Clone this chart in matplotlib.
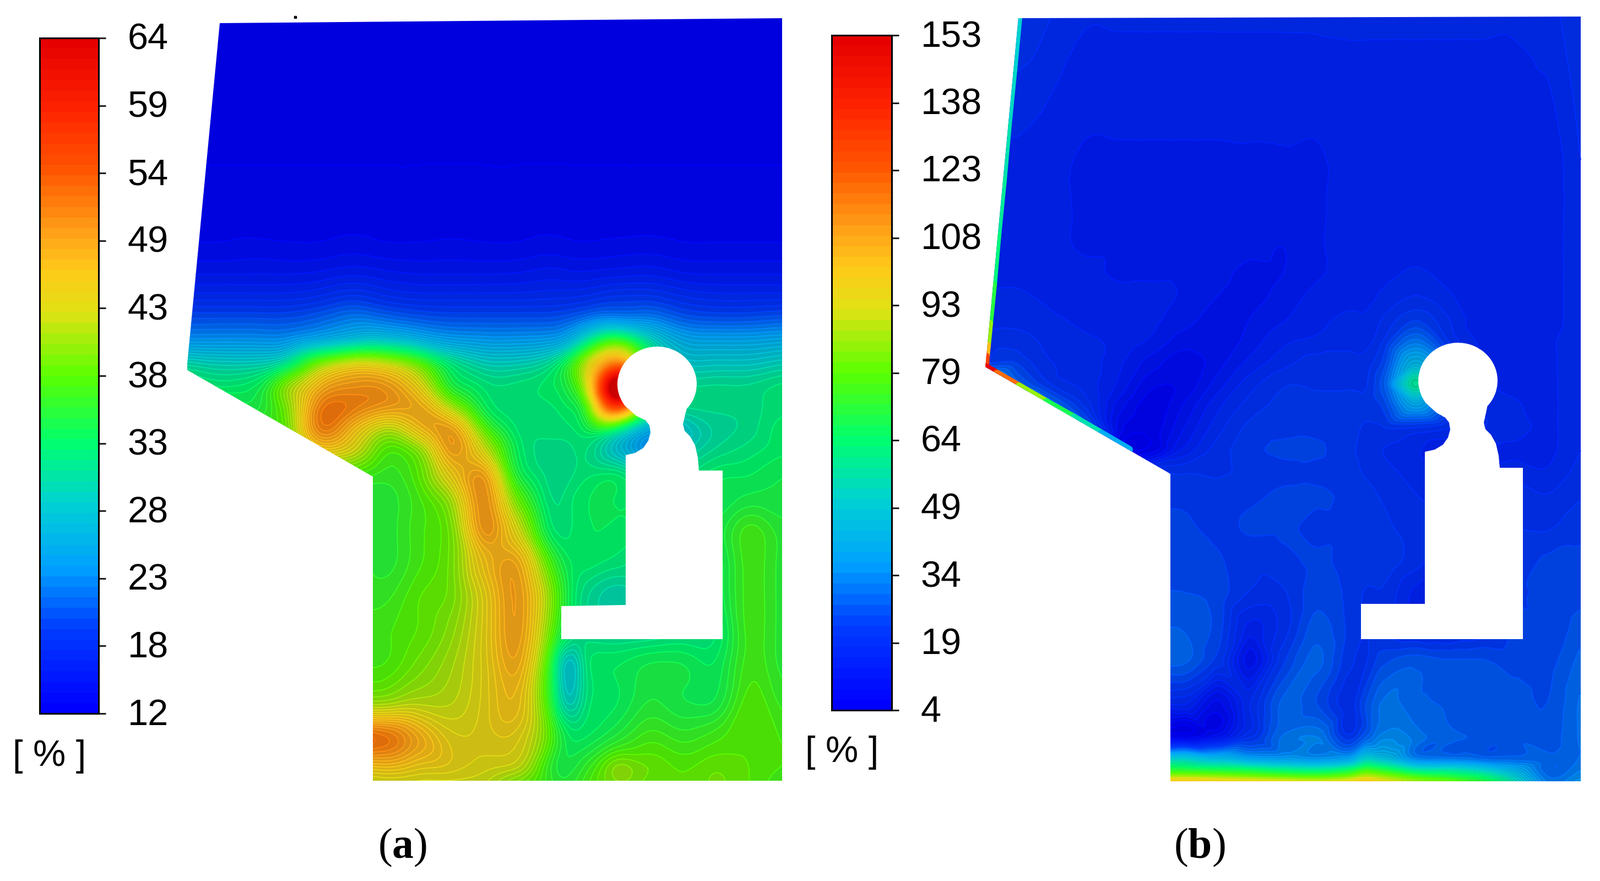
import numpy as np
import matplotlib
matplotlib.use("Agg")
import matplotlib.pyplot as plt
import matplotlib.tri as mtri
from matplotlib.colors import LinearSegmentedColormap, Normalize
from matplotlib.cm import ScalarMappable
from matplotlib.path import Path
from matplotlib.patches import PathPatch
from matplotlib.collections import LineCollection
from matplotlib.transforms import ScaledTranslation

W, H = 2905, 1599
plt.rcParams["font.family"] = ["Liberation Sans", "DejaVu Sans"]
plt.rcParams["mathtext.fontset"] = "custom"
plt.rcParams["mathtext.bf"] = "Liberation Serif:bold"
plt.rcParams["mathtext.rm"] = "Liberation Serif"

# ---- data -----------------------------------------------------------------
x_nodes = [340, 400, 460, 520, 580, 640, 700, 760, 820, 880, 940, 1000, 1030,
           1060, 1120, 1180, 1240, 1300, 1360, 1420]
y_nodes_a = [30, 300, 400, 450, 500, 540, 580, 620, 660, 700, 740, 780, 820, 860,
             900, 960, 1020, 1080, 1140, 1200, 1280, 1340, 1400, 1425]
y_nodes_b = [30, 300, 400, 450, 500, 540, 580, 620, 660, 700, 740, 780, 820, 860,
             900, 960, 1020, 1080, 1140, 1200, 1280, 1340, 1382, 1402, 1414, 1425]

field_a = [
 [12]*20,
 [12]*20,
 [12.3,12.3,12.3,12.4,12.3,12.5,12.3,12.3,12.4,12.3,12.3,12.5,12.4,12.3,12.3,12.4,12.3,12.3,12.3,12.3],
 [13,13,13.2,13,13,13.3,13,13,13.1,13,13,13.3,13.1,13,13.2,13.3,13,13,13,13],
 [14.5,14.5,14.5,14.5,14.7,15.2,14.8,14.5,14.5,14.5,14.6,15,14.8,14.7,15,15.2,14.6,14.5,14.5,14.5],
 [16.5,16.5,16.5,16.5,17,18,17,16.5,16.5,16.5,16.5,16.7,16.8,17,18,18,17,16.5,16.5,16.5],
 [19.5,19.5,19.5,19.5,20.5,22,21,20,19.5,19.5,19.5,19.5,20,21,22,22,20,19.5,19.5,20],
 [23,23,23,23,25,27,28,26,24,23.5,23.5,24,25,30,38,30,25,24.5,24.5,25],
 [30,29,29,31,40,44,43,39,32,29,29,31,35,42,52,33,28,28,28,29],
 [33,32,33,41,47,49,49,44,34,32,32,33,34,40,74,35,31,31,31,32],
 [35,35,34,39,51,51,49,48,41,33,32,32,33,34,58,35,31,31,31,32],
 [36,36,36,38,51,46,41,46,49,38,32,32,32,33,31,24,27,30,31,33],
 [38,38,38,38,44,43,37,39,49,43,33,31,31,32,27,22,29,31,32,33],
 [37,37,37,37,37,37,36,38,45,49,34,31,31,32,33,30,31,33,33,34],
 [35,35,35,35,35,35,35,37,41,50,38,31,32,33,33,33,33,33,34,34],
 [35,35,35,35,35,35,35,37,39,50,43,32,32,33,33,33,33,34,37,35],
 [36,36,36,36,36,36,35,37,39,46,48,37,33,33,32,31,32,33,37,35],
 [36,36,36,36,36,36,36,38,39,44,49,40,34,31,29,30,31,33,37,35],
 [37,37,37,37,37,37,37,38,40,44,49,39,33,31,30,30,31,32,37,35],
 [37,37,37,37,37,37,37,39,41,44,48,36,25,32,33,34,34,33,37,35],
 [41,41,41,41,41,41,41,42,42,44,46,36,27,32,33,35,34,34,38,36],
 [55,55,55,55,55,55,52,48,44,44,44,38,33,33,35,37,36,37,38,37],
 [44,44,44,44,44,44,45,44,44,43,42,35,34,36,41,39,38,39,38,37],
 [42,42,42,42,42,42,42,42,42,42,38,36,35,37,39,38,38,39,38,36],
]

field_b = [
 [20,20,18,16,16,16,16,16,16,16,16,16,16,16,16,16,16,16,17,20],
 [15,15,14,13,13,13,13,13,13,13,13,14,14,14,14,14,14,14,14,18],
 [15,15,14,13,13,13,13,13,13,12,13,14,14,14,14,14,14,14,14,18],
 [15,15,14,13,13,13,13,13,12,11,13,14,14,14,15,15,14,14,14,18],
 [15,15,14,14,13,13,13,12,10,11,13,14,15,15,16,15,14,14,14,18],
 [16,16,15,14,14,14,13,11,10,12,14,15,15,16,18,16,14,14,14,18],
 [17,17,16,15,14,14,12,10,11,13,15,16,16,18,22,18,14,14,14,18],
 [19,19,17,16,15,13,10,9,12,15,16,17,17,20,30,20,15,14,15,18],
 [22,22,18,17,14,10,7,10,14,17,19,19,19,23,42,25,16,15,15,18],
 [40,28,20,17,13,7,7,12,17,20,20,20,20,26,58,28,17,15,15,18],
 [40,40,30,20,10,5,9,15,19,21,21,21,21,23,38,25,18,16,15,18],
 [40,40,40,28,8,5,11,17,21,22,22,21,20,20,20,18,18,17,15,18],
 [40,40,40,40,6,5,14,19,22,23,23,21,19,18,16,14,15,15,15,18],
 [20,20,20,20,20,20,20,20,21,22,22,21,20,19,17,16,16,17,16,19],
 [22,22,22,22,22,22,22,21,22,23,23,22,21,20,18,17,17,19,18,20],
 [23,23,23,23,23,23,23,22,23,23,22,22,22,21,19,18,18,20,20,22],
 [24,24,24,24,24,24,24,23,21,22,23,22,22,22,19,16,18,21,23,23],
 [25,25,25,25,25,25,25,24,20,20,24,22,20,20,15,13,18,22,23,24],
 [27,27,27,27,27,27,27,24,15,19,26,22,20,19,16,15,18,23,23,26],
 [28,28,28,28,28,28,28,22,10,22,28,21,20,24,26,25,25,24,24,28],
 [16,16,16,16,16,16,16,8,18,28,25,19,25,30,28,27,26,26,25,30],
 [5,5,5,5,5,5,5,10,20,30,32,21,27,33,31,28,27,27,26,30],
 [52,52,52,52,52,52,52,46,40,38,36,40,52,48,34,32,30,29,28,30],
 [72,72,72,72,72,72,72,70,68,64,62,68,76,72,60,58,52,42,28,32],
 [90,90,90,90,90,90,90,88,85,82,80,85,92,88,78,72,65,50,30,34],
 [108,108,108,108,108,108,108,106,105,102,100,104,108,100,90,85,72,55,32,36],
]

ticklabels_a = ["12", "18", "23", "28", "33", "38", "43", "49", "54", "59", "64"]
ticklabels_b = ["4", "19", "34", "49", "64", "79", "93", "108", "123", "138", "153"]
range_a = (12, 64)
range_b = (4, 153)

outline_a = [(399, 42), (1420, 33), (1423, 1417), (677, 1417), (677, 865), (339, 671)]
neck_a = [(1243,757),(1240,770),(1243,782),(1253,792),(1262,808),(1267,830),(1269,854),(1312,854),
          (1312,1160),(1019,1160),(1019,1100),(1136,1098),(1136,826),(1153,822),(1168,813),
          (1177,800),(1181,785),(1179,772),(1172,763),(1155,755)]
head_a = (1193, 697, 72, 68)
outline_b = [(399, 36), (1424, 33), (1426, 1421), (675, 1421), (675, 863), (339, 669)]
neck_b = [(1247,757),(1244,770),(1247,782),(1257,792),(1266,808),(1271,830),(1273,852),(1315,852),
          (1315,1163),(1021,1163),(1021,1099),(1137,1099),(1137,823),(1155,819),(1170,810),
          (1179,797),(1183,783),(1181,770),(1174,761),(1158,752)]
head_b = (1197, 694, 72, 69)

# thin hot strip along the left and slanted walls of panel (b)
edge_xy_b = [(399,36),(390,130),(380,230),(371,330),(361,430),(353,520),(346,590),(342,630),
             (340,650),(339,669),(360,681),(400,704),(450,733),(500,761),(550,790),(600,819)]
edge_val_b = [50,52,55,58,62,70,85,105,130,153,120,85,68,55,40,28]

cmap_stops = [(0.00,(0,0,255)),(0.12,(0,60,255)),(0.21,(0,160,255)),(0.31,(0,210,210)),
              (0.40,(0,255,110)),(0.50,(90,255,0)),(0.596,(225,225,20)),(0.66,(255,200,25)),
              (0.71,(255,165,25)),(0.81,(255,85,0)),(0.90,(255,35,0)),(1.00,(230,0,0))]
cmap = LinearSegmentedColormap.from_list(
    "cfd", [(p, tuple(c/255 for c in rgb)) for p, rgb in cmap_stops], N=256)
shade = 0.87
cmap_fill = LinearSegmentedColormap.from_list(
    "cfdfill", [(p, tuple(shade*c/255 for c in rgb)) for p, rgb in cmap_stops], N=256)

fig = plt.figure(figsize=(W/100, H/100), dpi=100)

def px_axes(x0, y0, x1, y1):
    return fig.add_axes([x0/W, 1-y1/H, (x1-x0)/W, (y1-y0)/H])

def hole_outline(head, neck):
    cx, cy, rx, ry = head
    th = np.radians(np.linspace(144, 402, 60))
    arc = np.column_stack([cx + rx*np.cos(th), cy + ry*np.sin(th)])
    return np.vstack([arc, np.array(neck, float)])

def domain_path(outline, head, neck):
    o = np.array(outline + [outline[0]], float)
    h = hole_outline(head, neck)[::-1]
    h = np.vstack([h, h[0]])
    codes_o = [Path.MOVETO] + [Path.LINETO]*(len(o)-2) + [Path.CLOSEPOLY]
    codes_h = [Path.MOVETO] + [Path.LINETO]*(len(h)-2) + [Path.CLOSEPOLY]
    return Path(np.vstack([o, h]), codes_o + codes_h)

def soften(z, n):
    if n <= 1:
        return z
    kernel = np.ones(n)/n
    pad = n//2
    for axis in (0, 1):
        p = [(0, 0), (0, 0)]
        p[axis] = (pad, pad)
        zp = np.pad(z, p, mode="edge")
        z = np.apply_along_axis(lambda m: np.convolve(m, kernel, mode="valid"), axis, zp)
    return z

def draw_panel(box, xs, ys, field, vr, outline, head, neck, smooth):
    ax = px_axes(*box)
    ax.set_xlim(330, 1430)
    ax.set_ylim(1425, 25)
    ax.axis("off")
    X, Y = np.meshgrid(np.array(xs, float), np.array(ys, float))
    Z = np.array(field, float)
    tri = mtri.Triangulation(X.ravel(), Y.ravel())
    interp = mtri.CubicTriInterpolator(tri, Z.ravel(), kind="geom")
    fx, fy = np.meshgrid(np.arange(340, 1420.5, 3.0), np.arange(30, 1425.5, 3.0))
    fz = np.ma.filled(interp(fx, fy), vr[0])
    fz = np.clip(soften(fz, smooth), vr[0], vr[1])
    levels = np.linspace(vr[0], vr[1], 65)
    norm = Normalize(*vr)
    patch = PathPatch(domain_path(outline, head, neck), fc="none", ec="none", transform=ax.transData)
    ax.add_patch(patch)
    cf = ax.contourf(fx, fy, fz, levels=levels, cmap=cmap_fill, norm=norm, extend="both")
    cl = ax.contour(fx, fy, fz, levels=levels, cmap=cmap, norm=norm, linewidths=1.3)
    cf.set_clip_path(patch)
    cl.set_clip_path(patch)
    return ax, patch, norm

def draw_bar(box, vr, labels):
    cax = px_axes(*box)
    sm = ScalarMappable(norm=Normalize(*vr), cmap=cmap.resampled(64))
    cb = fig.colorbar(sm, cax=cax)
    cb.set_ticks(np.linspace(vr[0], vr[1], len(labels)))
    cb.set_ticklabels(labels)
    cb.ax.tick_params(length=9, width=2.2, pad=29, labelsize=48, color="#222222")
    cb.outline.set_linewidth(2.2)
    cb.outline.set_edgecolor("black")
    cb.ax.minorticks_off()
    up = ScaledTranslation(0, 3/100, fig.dpi_scale_trans)
    for lab in cb.ax.get_yticklabels():
        lab.set_transform(lab.get_transform() + up)

# panel (a)
ax_a, _, _ = draw_panel((330, 25, 1430, 1425), x_nodes, y_nodes_a, field_a, range_a,
                        outline_a, head_a, neck_a, 15)
ax_a.plot([536], [31], marker="s", ms=2.2, color="black", clip_on=False)
draw_bar((72, 69, 179, 1295), range_a, ticklabels_a)

# panel (b)
ax_b, patch_b, norm_b = draw_panel((1780, 22, 2880, 1422), x_nodes, y_nodes_b, field_b, range_b,
                                   outline_b, head_b, neck_b, 3)
e = np.array(edge_xy_b, float)
segs = np.stack([e[:-1], e[1:]], axis=1)
lc = LineCollection(segs, cmap=cmap, norm=norm_b, linewidths=10, capstyle="round")
lc.set_array(np.array(edge_val_b[:-1], float))
ax_b.add_collection(lc)
lc.set_clip_path(patch_b)
draw_bar((1510, 64, 1619, 1289), range_b, ticklabels_b)

# unit labels and panel captions
fig.text(90/W, 1-1373/H, "[ % ]", fontsize=48, ha="center", va="center")
fig.text(1529/W, 1-1366/H, "[ % ]", fontsize=48, ha="center", va="center")
serif = {"family": "Liberation Serif", "fontsize": 56, "ha": "center", "va": "center"}
fig.text(731/W, 1-1538/H, r"($\mathbf{a}$)", **serif)
fig.text(2178/W, 1-1538/H, r"($\mathbf{b}$)", **serif)

fig.savefig("out.png", dpi=100, facecolor="white")
